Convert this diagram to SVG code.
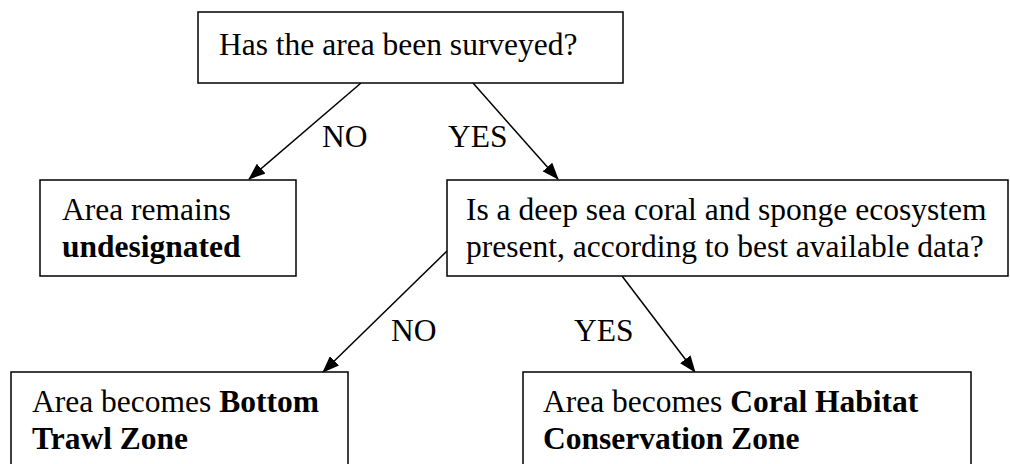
<svg xmlns="http://www.w3.org/2000/svg" width="1010" height="464" viewBox="0 0 1010 464">
<style>
.box{fill:#fff;stroke:#000;stroke-width:1.5}
.t{font-family:"Liberation Serif","Times New Roman",serif;font-size:31.5px;fill:#000}
.b{font-weight:bold}
.c{stroke:#000;stroke-width:1.5;fill:none}
</style>
<defs>
<marker id="ah" markerUnits="userSpaceOnUse" markerWidth="17" markerHeight="13" viewBox="0 0 17 13" refX="16" refY="6.5" orient="auto">
<path d="M0,0 L17,6.5 L0,13 Z" fill="#000"/>
</marker>
</defs>
<rect width="1010" height="464" fill="#fff"/>
<g id="connectors">
<line class="c" x1="361" y1="83" x2="249" y2="179" marker-end="url(#ah)"/>
<line class="c" x1="473" y1="83" x2="558" y2="179" marker-end="url(#ah)"/>
<line class="c" x1="447" y1="251" x2="323" y2="372" marker-end="url(#ah)"/>
<line class="c" x1="622" y1="276" x2="695" y2="372" marker-end="url(#ah)"/>
<text class="t" x="322" y="147">NO</text>
<text class="t" x="448" y="147">YES</text>
<text class="t" x="391" y="341">NO</text>
<text class="t" x="574" y="341">YES</text>
</g>
<g id="q1">
<rect class="box" x="198" y="12" width="425" height="71"/>
<text class="t" x="219" y="55">Has the area been surveyed?</text>
</g>
<g id="undesignated">
<rect class="box" x="40" y="180" width="256" height="96"/>
<text class="t" x="62" y="220">Area remains</text>
<text class="t b" x="62" y="257">undesignated</text>
</g>
<g id="q2">
<rect class="box" x="447" y="180" width="561" height="96"/>
<text class="t" x="466" y="220">Is a deep sea coral and sponge ecosystem</text>
<text class="t" x="466" y="257">present, according to best available data?</text>
</g>
<g id="trawl">
<rect class="box" x="11" y="372" width="337" height="110"/>
<text class="t" x="32" y="412">Area becomes <tspan class="b">Bottom</tspan></text>
<text class="t b" x="32" y="449">Trawl Zone</text>
</g>
<g id="coral">
<rect class="box" x="523" y="372" width="448" height="110"/>
<text class="t" x="543" y="412">Area becomes <tspan class="b">Coral Habitat</tspan></text>
<text class="t b" x="543" y="449">Conservation Zone</text>
</g>
</svg>
